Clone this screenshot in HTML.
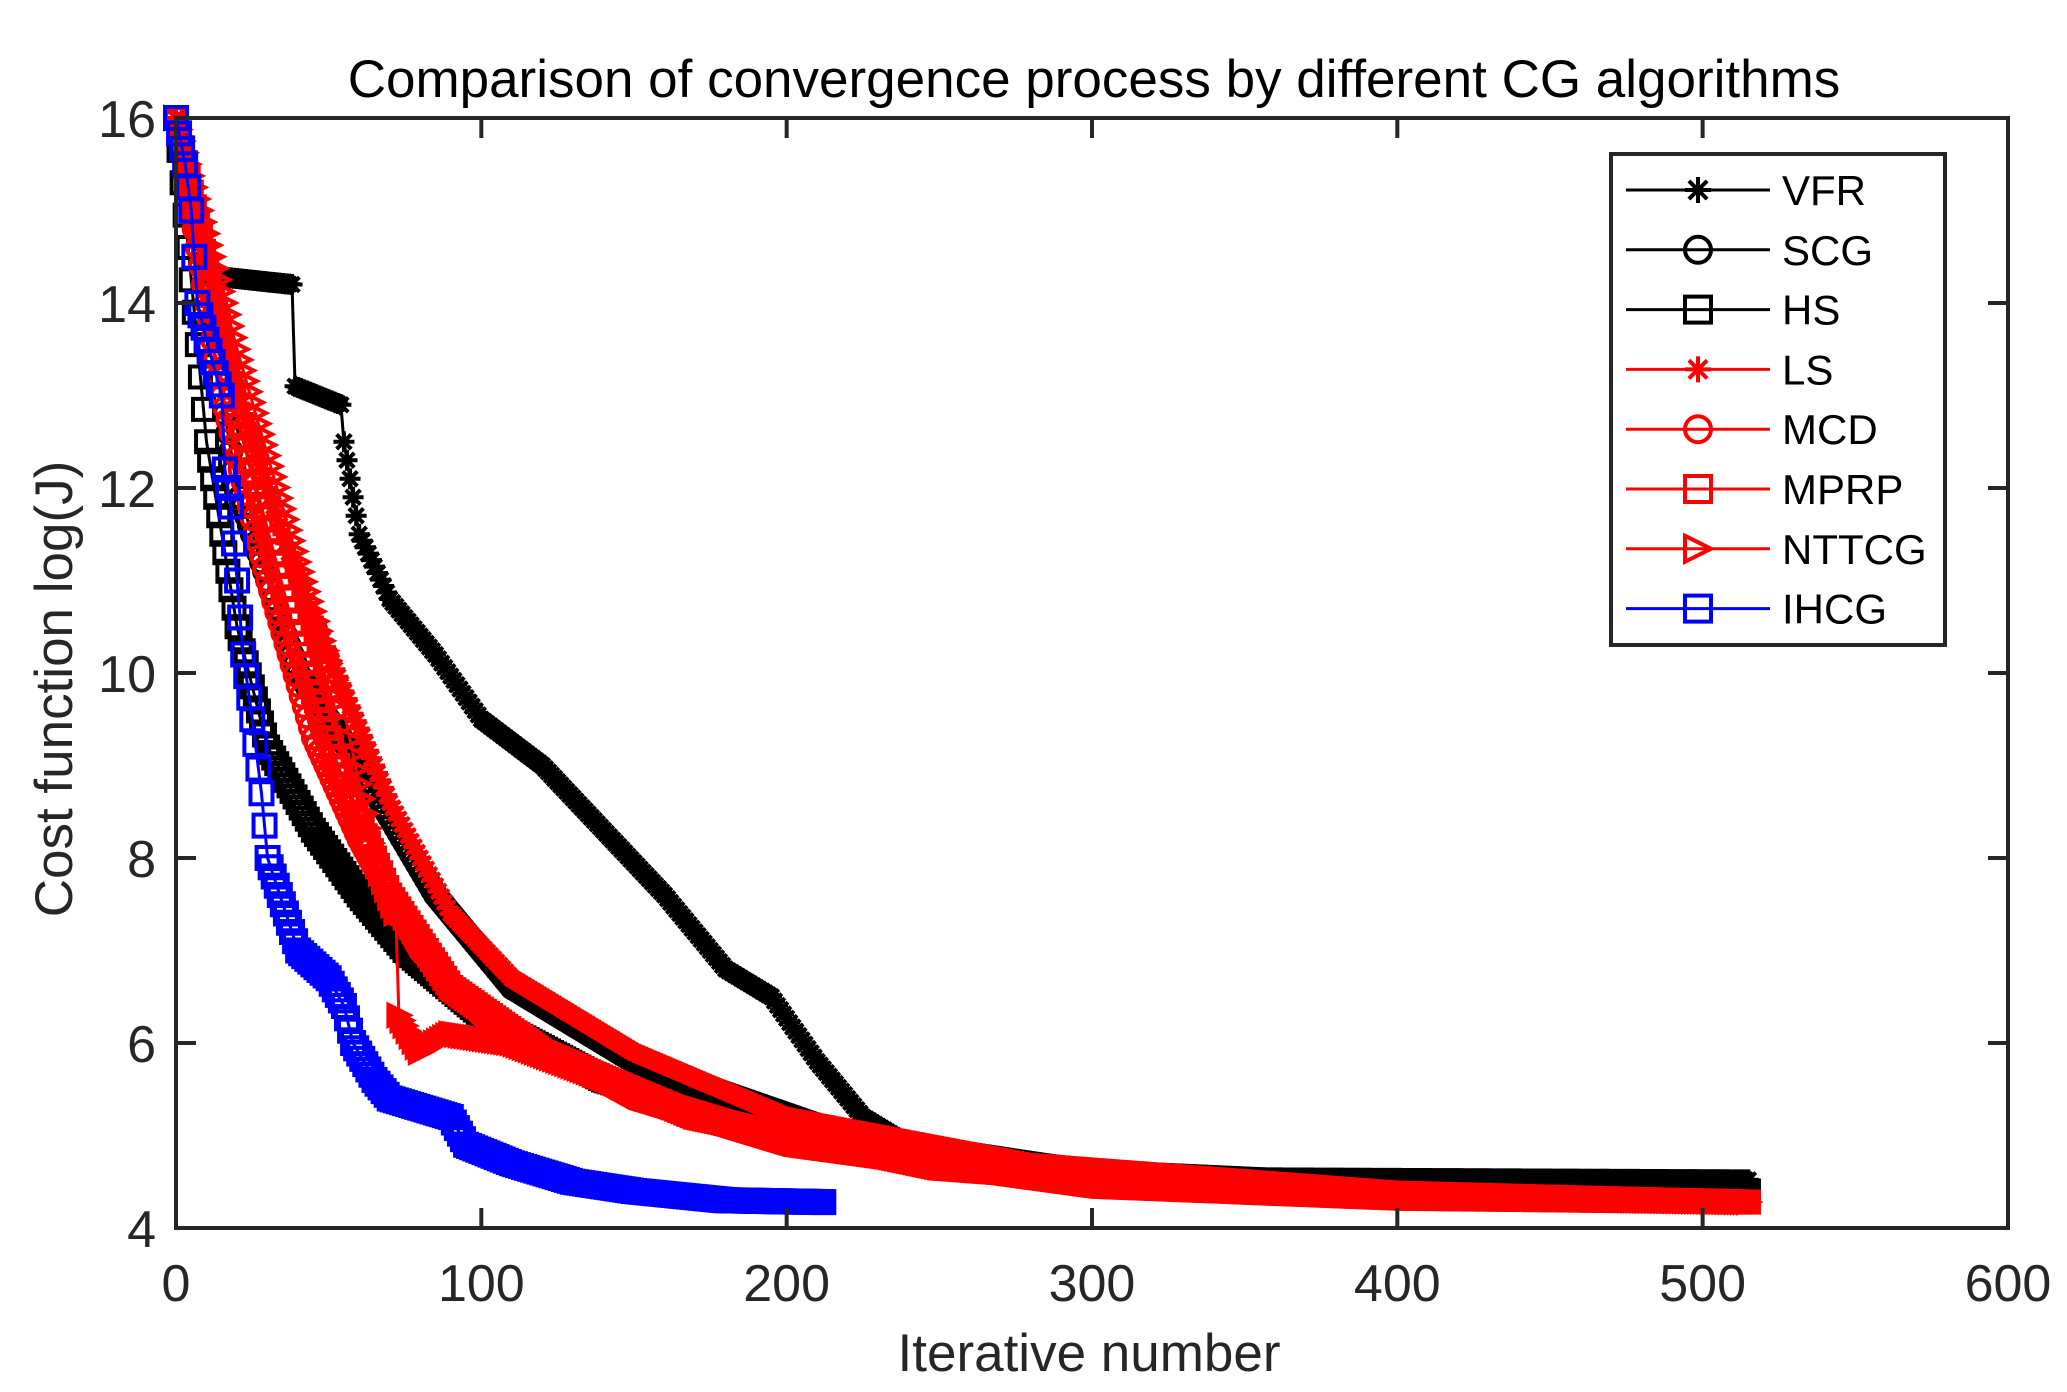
<!DOCTYPE html>
<html><head><meta charset="utf-8"><style>
html,body{margin:0;padding:0;background:#fff;}
svg{display:block;font-family:"Liberation Sans",Arial,sans-serif;}
</style></head><body>
<svg id="s" width="2067" height="1392" viewBox="0 0 2067 1392" xmlns="http://www.w3.org/2000/svg">
<rect width="2067" height="1392" fill="#fff"/>
<g id="data"></g>
<g id="axes" stroke="#262626" stroke-width="4" fill="none">
<rect x="176" y="118" width="1832" height="1110"/>
</g>
<g id="ticks" stroke="#262626" stroke-width="4"></g>
<g font-size="52" fill="#262626" id="labels"></g>
<text x="1094" y="97" font-size="53" text-anchor="middle" fill="#000">Comparison of convergence process by different CG algorithms</text>
<text x="1089" y="1371" font-size="53" text-anchor="middle" fill="#262626">Iterative number</text>
<text transform="translate(72,689) rotate(-90)" font-size="53" text-anchor="middle" fill="#262626">Cost function log(J)</text>
<g id="legend"></g>
</svg>
<script>
var NS="http://www.w3.org/2000/svg";
function X(i){return 176+i*3.0533;}
function Y(v){return 118+(16-v)*92.5;}
function el(p,t,a){var e=document.createElementNS(NS,t);for(var k in a)e.setAttribute(k,a[k]);p.appendChild(e);return e;}
var tk=document.getElementById('ticks'),lb=document.getElementById('labels');
for(var i=0;i<=600;i+=100){var x=X(i);
 if(i>0&&i<600){el(tk,'line',{x1:x,y1:1228,x2:x,y2:1208});el(tk,'line',{x1:x,y1:118,x2:x,y2:138});}
 var t=el(lb,'text',{x:x,y:1301,'text-anchor':'middle'});t.textContent=i;}
for(var v=4;v<=16;v+=2){var y=Y(v);
 if(v>4&&v<16){el(tk,'line',{x1:176,y1:y,x2:196,y2:y});el(tk,'line',{x1:2008,y1:y,x2:1988,y2:y});}
 var t=el(lb,'text',{x:156,y:y+19,'text-anchor':'end'});t.textContent=v;}
function interp(k,i){for(var j=0;j<k.length-1;j++){if(i<=k[j+1][0]){var a=k[j],b=k[j+1];return a[1]+(b[1]-a[1])*(i-a[0])/(b[0]-a[0]);}}return k[k.length-1][1];}
function marker(g,m,x,y,c,s){
 if(m=='*'){var r=s/2;el(g,'path',{d:'M'+(x-r)+' '+y+'H'+(x+r)+'M'+x+' '+(y-r)+'V'+(y+r)+'M'+(x-r*.7)+' '+(y-r*.7)+'L'+(x+r*.7)+' '+(y+r*.7)+'M'+(x-r*.7)+' '+(y+r*.7)+'L'+(x+r*.7)+' '+(y-r*.7),stroke:c,'stroke-width':4,fill:'none'});}
 else if(m=='o'){el(g,'circle',{cx:x,cy:y,r:s/2,stroke:c,'stroke-width':4,fill:'none'});}
 else if(m=='s'){el(g,'rect',{x:x-s/2,y:y-s/2,width:s,height:s,stroke:c,'stroke-width':4,fill:'none'});}
 else if(m=='>'){el(g,'path',{d:'M'+(x-s/2)+' '+(y-s/2)+'L'+(x+s/2)+' '+y+'L'+(x-s/2)+' '+(y+s/2)+'Z',stroke:c,'stroke-width':4,fill:'none'});}
}
var series=[
 {c:'#000',m:'s',n:515,k:[[0,16],[10,12.5],[20,10.5],[30,9.2],[45,8.3],[60,7.6],[75,7.0],[100,6.3],[140,5.6],[200,5.0],[300,4.6],[400,4.45],[515,4.4]]},
 {c:'#000',m:'o',n:515,k:[[0,16],[20,12],[40,10],[60,9],[85,7.6],[110,6.6],[150,5.8],[220,5.0],[300,4.6],[400,4.45],[515,4.4]]},
 {c:'#000',m:'*',n:515,k:[[0,16],[10,14.3],[38,14.2],[39,13.1],[54,12.9],[55,12.5],[60,11.5],[70,10.8],[85,10.2],[100,9.5],[120,9.0],[140,8.3],[160,7.6],[180,6.8],[195,6.5],[210,5.8],[225,5.2],[240,4.9],[260,4.62],[300,4.55],[515,4.52]]},
 {c:'#f00',m:'*',n:515,k:[[0,16],[20,13],[40,11],[55,9.8],[70,8.6],[90,7.4],[110,6.7],[150,5.9],[200,5.2],[280,4.7],[400,4.4],[515,4.3]]},
 {c:'#f00',m:'o',n:515,k:[[0,16],[15,13],[30,11],[45,9.3],[60,8.2],[80,7.0],[100,6.3],[150,5.4],[200,4.9],[300,4.45],[400,4.32],[515,4.28]]},
 {c:'#f00',m:'s',n:515,k:[[0,16],[20,12.8],[40,10.3],[55,8.8],[70,7.6],[90,6.6],[120,5.9],[170,5.2],[250,4.65],[350,4.4],[515,4.28]]},
 {c:'#f00',m:'>',n:515,k:[[0,16],[20,13.5],[40,11.2],[55,9.6],[65,8.0],[72,7.4],[73,6.3],[80,5.9],[90,6.1],[110,6.0],[150,5.5],[200,5.0],[280,4.6],[400,4.35],[515,4.28]]},
 {c:'#00f',m:'s',n:212,k:[[0,16],[3,15.5],[5,15],[7,14],[10,13.6],[15,13],[16,12.2],[18,11.8],[20,11],[22,10.2],[25,9.5],[28,8.7],[30,8.0],[35,7.5],[40,7.0],[50,6.7],[55,6.4],[58,6.0],[65,5.6],[70,5.4],[90,5.2],[95,4.9],[110,4.7],[130,4.5],[150,4.4],[180,4.3],[212,4.28]]}
];
var g=document.getElementById('data');
series.forEach(function(s){
 var pts=[];for(var i=0;i<=s.n;i++)pts.push(X(i).toFixed(1)+','+Y(interp(s.k,i)).toFixed(1));
 el(g,'polyline',{points:pts.join(' '),stroke:s.c,'stroke-width':3,fill:'none'});
 var gm=el(g,'g',{});
 for(var i=0;i<=s.n;i++)marker(gm,s.m,X(i),Y(interp(s.k,i)),s.c,s.c=='#00f'?22:21);
});
var L=document.getElementById('legend');
el(L,'rect',{x:1611,y:154,width:334,height:491,fill:'#fff',stroke:'#262626','stroke-width':4});
var names=['VFR','SCG','HS','LS','MCD','MPRP','NTTCG','IHCG'];
var lm=[['#000','*'],['#000','o'],['#000','s'],['#f00','*'],['#f00','o'],['#f00','s'],['#f00','>'],['#00f','s']];
for(var j=0;j<8;j++){var y=190+j*59.8;
 el(L,'line',{x1:1626,y1:y,x2:1770,y2:y,stroke:lm[j][0],'stroke-width':3});
 marker(L,lm[j][1],1698,y,lm[j][0],26);
 var t=el(L,'text',{x:1782,y:y+15,'font-size':42,fill:'#000'});t.textContent=names[j];}
</script>
</body></html>
